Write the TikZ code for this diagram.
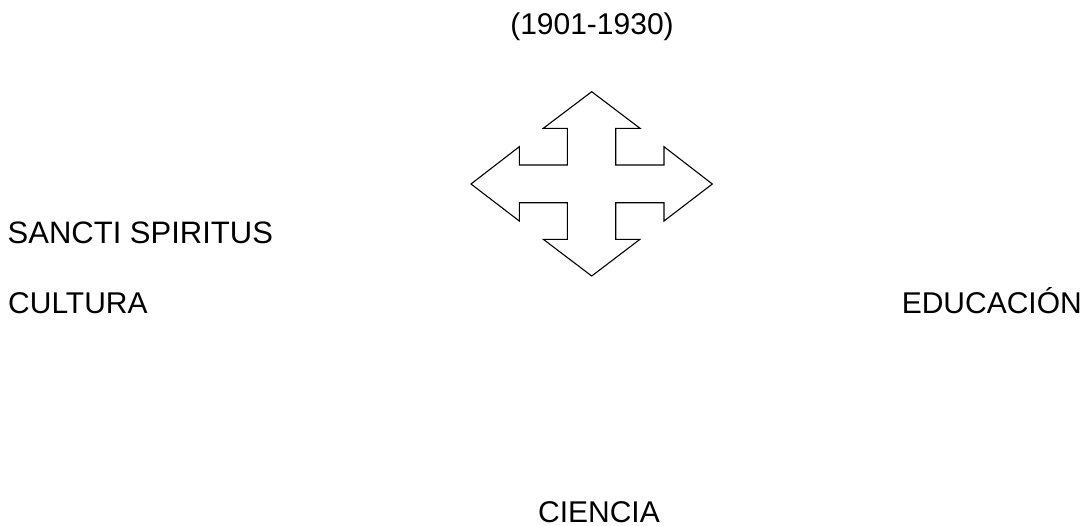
\documentclass[tikz,border=0pt]{standalone}
\usepackage{fontspec}
\setmainfont{Liberation Sans}
\usepackage{tikz}
\newcommand{\lbl}{\fontsize{30}{36}\selectfont}

\begin{document}
\begin{tikzpicture}[x=1pt,y=-1pt,
  txt/.style={inner sep=0pt,font=\lbl},
  cross/.style={line width=1.1pt,line join=miter}]
\useasboundingbox (0,0) rectangle (1089,525);

% labels
\node[txt,anchor=base] (years) at (592,34) {(1901-1930)};
\node[txt,anchor=base west,font=\fontsize{31}{36}\selectfont] (sancti) at (7.5,243) {SANCTI SPIRITUS};
\node[txt,anchor=base west] (cultura) at (8,313) {CULTURA};
\node[txt,anchor=base east] (educ) at (1082,313) {EDUCACIÓN};
\node[txt,anchor=base] (ciencia) at (599,522) {CIENCIA};

% four-way arrow
\draw[cross] (591.7,91.7) -- (640,128.3) -- (615.7,128.3) -- (615.7,165)
  -- (664,165) -- (664,146.7) -- (712.3,184) -- (664,221) -- (664,202.7)
  -- (615.7,202.7) -- (615.7,239.3) -- (640,239.3) -- (591.7,276)
  -- (543.3,239.3) -- (567.3,239.3) -- (567.3,202.7) -- (519.3,202.7)
  -- (519.3,221) -- (471,184) -- (519.3,146.7) -- (519.3,165)
  -- (567.3,165) -- (567.3,128.3) -- (543.3,128.3) -- cycle;

\end{tikzpicture}
\end{document}
